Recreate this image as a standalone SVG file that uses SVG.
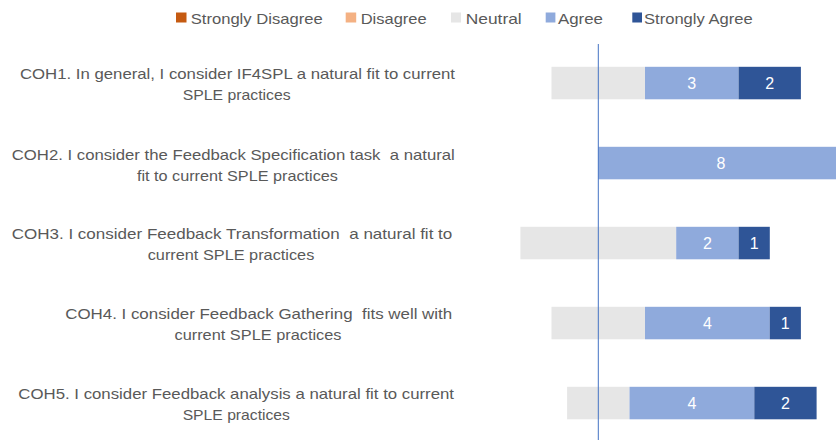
<svg xmlns="http://www.w3.org/2000/svg" width="836" height="440" viewBox="0 0 836 440">
<style>
text{font-family:"Liberation Sans",Arial,sans-serif;font-size:15px;white-space:pre}
.lbl{fill:#595959;text-anchor:middle}
.leg{fill:#595959}
.val{fill:#ffffff;text-anchor:middle;font-size:16px}
.sd{fill:#C55A11}.d{fill:#F4B183}.n{fill:#E6E6E6}.a{fill:#8FAADC}.sa{fill:#2F5597}
</style>
<rect width="836" height="440" fill="#ffffff"/>
<g id="legend">
<rect class="sd" x="176" y="12.5" width="10.5" height="10"/>
<text class="leg" x="190.7" y="24" textLength="132" lengthAdjust="spacingAndGlyphs">Strongly Disagree</text>
<rect class="d" x="345.7" y="12.5" width="10.5" height="10"/>
<text class="leg" x="360.7" y="24" textLength="66" lengthAdjust="spacingAndGlyphs">Disagree</text>
<rect class="n" x="451" y="12.5" width="10" height="10"/>
<text class="leg" x="465.7" y="24" textLength="56" lengthAdjust="spacingAndGlyphs">Neutral</text>
<rect class="a" x="545.7" y="12.5" width="9.7" height="10"/>
<text class="leg" x="558" y="24" textLength="45" lengthAdjust="spacingAndGlyphs">Agree</text>
<rect class="sa" x="632.3" y="12.5" width="9.7" height="10"/>
<text class="leg" x="644" y="24" textLength="108.7" lengthAdjust="spacingAndGlyphs">Strongly Agree</text>
</g>
<g id="COH1">
<text class="lbl" x="237.5" y="79" textLength="435" lengthAdjust="spacingAndGlyphs">COH1. In general, I consider IF4SPL a natural fit to current</text>
<text class="lbl" x="236.7" y="100" textLength="108" lengthAdjust="spacingAndGlyphs">SPLE practices</text>
<rect class="n" x="551.5" y="66.8" width="93.5" height="32.5"/>
<rect class="a" x="645" y="66.8" width="93.6" height="32.5"/>
<rect class="sa" x="738.6" y="66.8" width="62.3" height="32.5"/>
<text class="val" x="691.8" y="88.8">3</text>
<text class="val" x="769.7" y="88.8">2</text>
</g>
<g id="COH2">
<text class="lbl" x="233.3" y="160" textLength="443" lengthAdjust="spacingAndGlyphs">COH2. I consider the Feedback Specification task  a natural</text>
<text class="lbl" x="237.4" y="181" textLength="201" lengthAdjust="spacingAndGlyphs">fit to current SPLE practices</text>
<rect class="a" x="598.3" y="146.8" width="237.7" height="32.5"/>
<text class="val" x="721" y="168.8">8</text>
</g>
<g id="COH3">
<text class="lbl" x="232" y="239" textLength="440.6" lengthAdjust="spacingAndGlyphs">COH3. I consider Feedback Transformation  a natural fit to</text>
<text class="lbl" x="231" y="260" textLength="166.6" lengthAdjust="spacingAndGlyphs">current SPLE practices</text>
<rect class="n" x="520.4" y="226.8" width="155.8" height="32.5"/>
<rect class="a" x="676.2" y="226.8" width="62.4" height="32.5"/>
<rect class="sa" x="738.6" y="226.8" width="31.2" height="32.5"/>
<text class="val" x="707.4" y="248.8">2</text>
<text class="val" x="754.2" y="248.8">1</text>
</g>
<g id="COH4">
<text class="lbl" x="258.7" y="319" textLength="387" lengthAdjust="spacingAndGlyphs">COH4. I consider Feedback Gathering  fits well with</text>
<text class="lbl" x="258" y="340" textLength="167" lengthAdjust="spacingAndGlyphs">current SPLE practices</text>
<rect class="n" x="551.5" y="306.8" width="93.5" height="32.5"/>
<rect class="a" x="645" y="306.8" width="124.7" height="32.5"/>
<rect class="sa" x="769.7" y="306.8" width="31.2" height="32.5"/>
<text class="val" x="707.4" y="328.8">4</text>
<text class="val" x="785.3" y="328.8">1</text>
</g>
<g id="COH5">
<text class="lbl" x="236.2" y="399" textLength="435.7" lengthAdjust="spacingAndGlyphs">COH5. I consider Feedback analysis a natural fit to current</text>
<text class="lbl" x="236.3" y="420" textLength="107.3" lengthAdjust="spacingAndGlyphs">SPLE practices</text>
<rect class="n" x="567.1" y="386.8" width="62.4" height="32.5"/>
<rect class="a" x="629.5" y="386.8" width="124.8" height="32.5"/>
<rect class="sa" x="754.3" y="386.8" width="62.3" height="32.5"/>
<text class="val" x="691.9" y="408.8">4</text>
<text class="val" x="785.4" y="408.8">2</text>
</g>
<g id="connectors">
<line x1="598.3" y1="44" x2="598.3" y2="440" stroke="#4472C4" stroke-width="1"/>
</g>
</svg>
